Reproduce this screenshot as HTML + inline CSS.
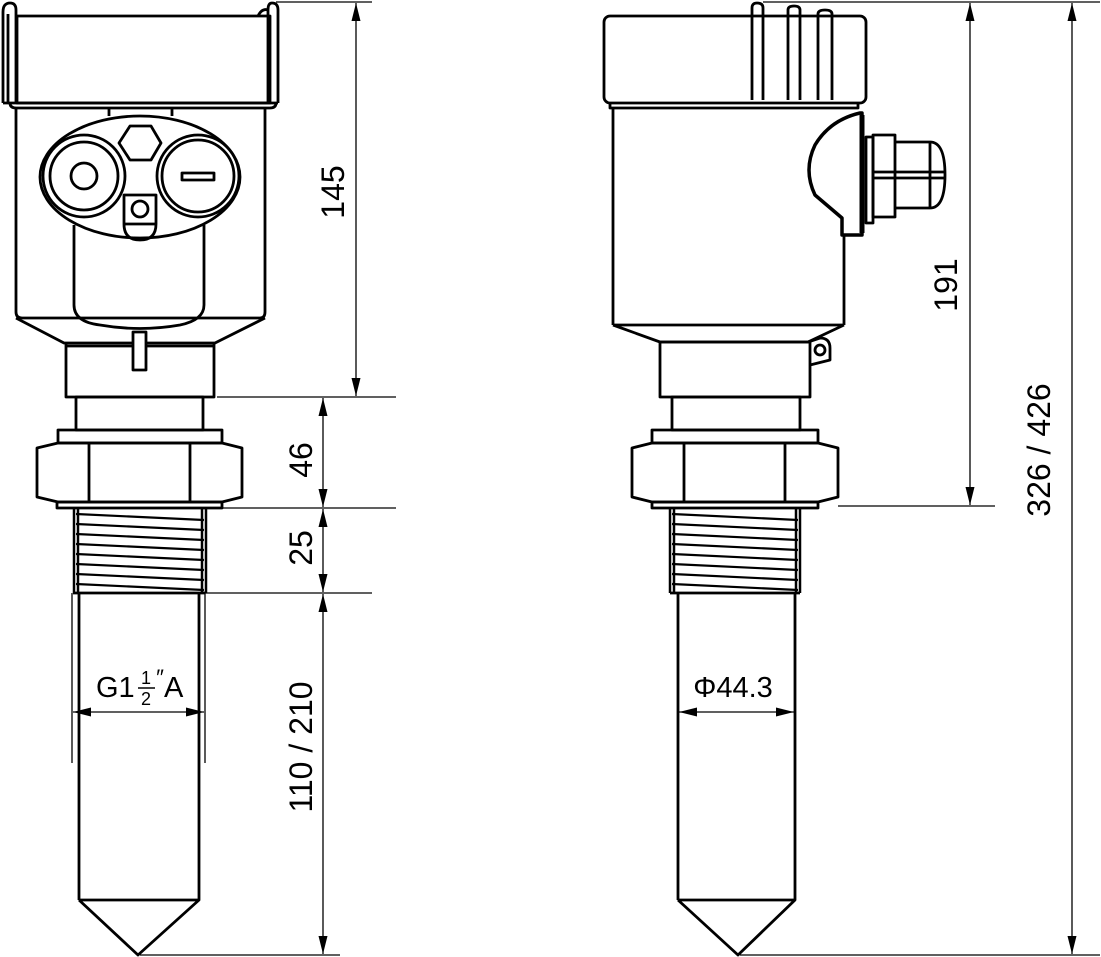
<!DOCTYPE html>
<html><head><meta charset="utf-8"><style>html,body{margin:0;padding:0;background:#fff}svg{display:block}</style></head><body>
<svg width="1101" height="957" viewBox="0 0 1101 957" xmlns="http://www.w3.org/2000/svg">
<defs>
<marker id="b" markerWidth="18" markerHeight="9" refX="18" refY="4.5" orient="auto-start-reverse" markerUnits="userSpaceOnUse" viewBox="0 0 18 9"><path d="M0,0 L18,4.5 L0,9Z" fill="#000"/></marker></defs>
<g fill="none" stroke="#000" stroke-width="2.8" stroke-linejoin="round">
<!-- LEFT DEVICE -->
<rect x="17" y="16" width="253" height="87"/>
<path d="M3,103 V12 Q3,3 10,3 Q16,3 16,10 V103"/>
<path d="M8,103 V14"/>
<path d="M268,103 V10 Q268,3 272,3 Q278,3 278,10 V103"/>
<path d="M258,16 Q262,8 268,10"/>
<path d="M3,103 H278 M10,103 Q10,108 16,108 H270 Q276,108 276,103"/>
<path d="M16,108 V312 Q16,318 22,318 H260 Q265,318 265,312 V108"/>
<path d="M109,108 V116 M172,108 V116"/>
<ellipse cx="140" cy="177" rx="100" ry="61" fill="#fff"/>
<circle cx="84" cy="176" r="41"/><circle cx="84" cy="176" r="34"/><circle cx="84" cy="176" r="13"/>
<circle cx="198" cy="176" r="41"/><circle cx="198" cy="176" r="36"/>
<rect x="182" y="173" width="32" height="7"/>
<polygon points="119,143 130,126 151,126 161,143 151,160 130,160"/>
<path d="M124,224 V195 H156 V224 Q156,240 140,240 Q124,240 124,224 H156"/>
<circle cx="140" cy="209" r="8"/>
<path d="M74,225 V305 Q74,322 100,325 Q140,332 180,325 Q204,320 204,305 V225"/>
<path d="M16,318 L64,343 H215 L265,318"/>
<path d="M66,346 H214 M66,343 V397 H214 V343"/>
<rect x="133" y="332" width="13" height="38" fill="#fff"/>
<rect x="76" y="397" width="127" height="33"/>
<rect x="58" y="430" width="164" height="13"/>
<path d="M58,443 H222 L242,448 V497 L222,502 H58 L37,497 V448 Z"/>
<path d="M89,443 V502 M190,443 V502"/>
<rect x="57" y="502" width="165" height="6"/>
<path d="M74,508 V593 M206,508 V593 M78,508 V593 M202,508 V593" stroke-width="2.5"/>
<g stroke-width="2.2">
<path d="M76,514 L204,520 M76,524 L204,530 M76,534 L204,540 M76,544 L204,550 M76,554 L204,560 M76,564 L204,570 M76,574 L204,580 M76,584 L204,590"/>
</g>
<path d="M79,593 V900 M199,593 V900 M79,900 H199 L138,955 L79,900"/>
<path d="M73,593 H205"/>
<!-- RIGHT DEVICE -->
<path d="M752,100 V8 Q752,3 757,3 Q763,3 763,8 V100"/>
<path d="M788,100 V10 Q788,6 794,6 Q800,6 800,10 V100"/>
<path d="M818,100 V14 Q818,10 825,10 Q832,10 832,14 V100"/>
<rect x="604" y="16" width="262" height="87" rx="6" fill="none"/>
<path d="M610,103 V108 H858 V103"/>
<path d="M613,108 V325 M844,218 V325 M613,325 H844"/>
<path d="M860,113 Q830,120 815,145 Q803,170 815,195 L842,218 V235 H862 V113 Z" fill="#fff" stroke-width="3.5"/>
<path d="M862,115 V233" stroke-width="5"/>
<rect x="866" y="137" width="7" height="86"/>
<rect x="873" y="135" width="22" height="82"/>
<path d="M895,142 H930 V208 H895 M930,142 Q945,142 945,175 Q945,208 930,208 M873,172 H945 M873,178 H945"/>
<path d="M613,325 L660,342 H808 L844,325"/>
<path d="M808,342 L820,338 Q830,338 830,348 V360 L810,365"/>
<circle cx="820" cy="350" r="5"/>
<rect x="660" y="342" width="150" height="55"/>
<rect x="672" y="397" width="128" height="33"/>
<rect x="652" y="430" width="166" height="13"/>
<path d="M652,443 H818 L838,448 V497 L818,502 H652 L632,497 V448 Z"/>
<path d="M684,443 V502 M785,443 V502"/>
<rect x="652" y="502" width="166" height="6"/>
<path d="M670,508 V593 M800,508 V593 M674,508 V593 M796,508 V593" stroke-width="2.5"/>
<g stroke-width="2.2">
<path d="M672,514 L798,520 M672,524 L798,530 M672,534 L798,540 M672,544 L798,550 M672,554 L798,560 M672,564 L798,570 M672,574 L798,580 M672,584 L798,590"/>
</g>
<path d="M678,593 V900 M795,593 V900 M678,900 H795 L738,955 L678,900 M670,593 H800"/>
</g>
<!-- DIMENSIONS -->
<g fill="none" stroke="#000" stroke-width="1.3">
<path d="M276,2 H372 M217,397 H396 M222,508 H396 M205,593 H372 M140,955 H340"/>
<path d="M356,3 V396" marker-start="url(#b)" marker-end="url(#b)"/>
<path d="M323,398 V507" marker-start="url(#b)" marker-end="url(#b)"/>
<path d="M323,509 V592" marker-start="url(#b)" marker-end="url(#b)"/>
<path d="M323,594 V954" marker-start="url(#b)" marker-end="url(#b)"/>
<path d="M72,593 V763 M205,593 V763"/>
<path d="M73,712 H204" marker-start="url(#b)" marker-end="url(#b)"/>
<path d="M678,698 V722 M795,698 V722"/>
<path d="M679,712 H794" marker-start="url(#b)" marker-end="url(#b)"/>
<path d="M763,2 H1100 M838,506 H995 M740,955 H1100"/>
<path d="M970,3 V505" marker-start="url(#b)" marker-end="url(#b)"/>
<path d="M1072,3 V954" marker-start="url(#b)" marker-end="url(#b)"/>
</g>
<g font-family="Liberation Sans, sans-serif" font-size="32" fill="#000" text-anchor="middle">
<text transform="translate(344,192) rotate(-90)">145</text>
<text transform="translate(312,460) rotate(-90)">46</text>
<text transform="translate(312,548) rotate(-90)">25</text>
<text transform="translate(312,747) rotate(-90)">110 / 210</text>
<text transform="translate(957,285) rotate(-90)">191</text>
<text transform="translate(1050,450) rotate(-90)">326 / 426</text>
<text x="733" y="697" font-size="29">Φ44.3</text>
<text x="96" y="697" font-size="29" text-anchor="start">G1</text>
<text x="146" y="684" font-size="18">1</text>
<path d="M138,688 H155" stroke="#000" stroke-width="1.5"/>
<text x="146" y="705" font-size="18">2</text>
<text x="160" y="685" font-size="22">″</text>
<text x="164" y="697" font-size="29" text-anchor="start">A</text>
</g>
</svg>
</body></html>
